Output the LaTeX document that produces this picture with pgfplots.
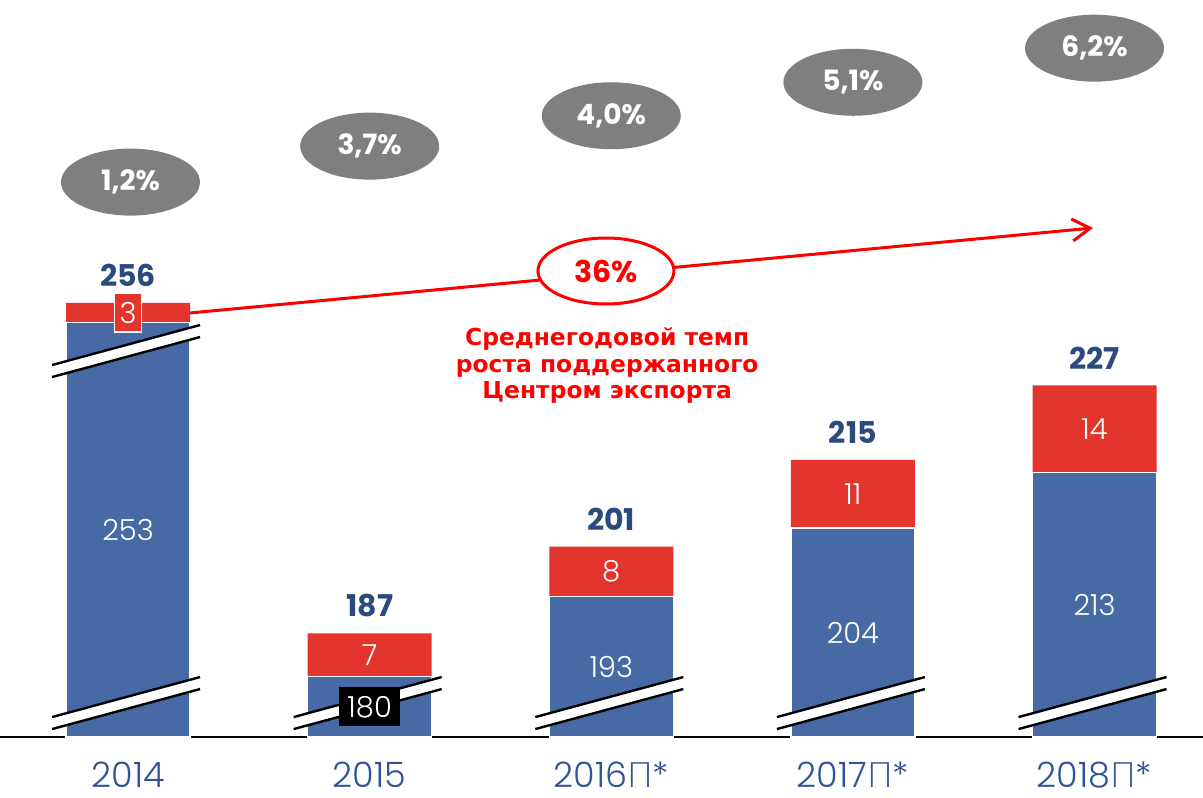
\documentclass[border=0pt]{standalone}
\usepackage{fontspec}
\setmainfont{Poppins}
\newfontfamily\popl{Poppins Light}
\newfontfamily\cyr{DejaVu Sans}
\newfontfamily\cyrl{Lato Light}
\usepackage{pgfplots}
\pgfplotsset{compat=1.18}
\usepackage{pgfplotstable}
\usetikzlibrary{shapes.geometric,arrows.meta}
\definecolor{barblue}{HTML}{476AA5}
\definecolor{barred}{HTML}{E3342E}
\definecolor{navy}{HTML}{2B4B7E}
\definecolor{tickblue}{HTML}{2F5597}
\definecolor{ellgray}{HTML}{7F7F7F}

% display heights (axis broken): blue and total
\pgfplotstableread{
x blue total totlab
0 237.2 240.3 256
1 180 187 187
2 193 201 201
3 204 215 215
4 213 227 227
}\datatab
\pgfplotstableread{
x y lab
0 203.75 253
2 181.65 193
3 187.15 204
4 191.65 213
}\bluelabs
\pgfplotstableread{
x y lab
1 175.15 180
}\bluelabsp
\pgfplotstableread{
x y lab
1 183.5 7
2 197 8
3 209.5 11
4 220 14
}\redlabs
\pgfplotstableread{
x y lab
0 238.75 3
}\redlabsp
\pgfplotstableread{
x y lab
0.01 259.8 1,2\%
1 265.6 3,7\%
2 270.5 4,0\%
3 275.9 5,1\%
4 281.4 6,2\%
}\growtab

\newcommand{\brk}[2]{%
  \fill[white,shift={(axis cs:#1,#2)}] (-38pt,-7.27pt)--(36pt,12.73pt)--(36pt,6.73pt)--(-38pt,-13.27pt)--cycle;
  \draw[black,line width=1.2pt,shift={(axis cs:#1,#2)}] (-38pt,-7.27pt)--(36pt,12.73pt) (-38pt,-13.27pt)--(36pt,6.73pt);}

\begin{document}
\begin{tikzpicture}
\useasboundingbox (0,-30pt) rectangle (601.5pt,368.5pt);
\begin{axis}[
  scale only axis, width=601.5pt, height=368.5pt,
  xmin=-0.53, xmax=4.449, ymin=170.3, ymax=289.17,
  axis y line=none, axis x line*=bottom,
  x axis line style={black, line width=0.6pt},
  xtick={0,1,2,3,4},
  xticklabels={2014,2015,2016{\cyrl П}*,2017{\cyrl П}*,2018{\cyrl П}*},
  major tick length=0pt,
  xticklabel style={anchor=base, yshift=-25pt, inner sep=0pt, text depth=0pt, text=tickblue, font=\popl\fontsize{17.5}{20}\selectfont},
]
\addplot[ybar, bar width=62pt, bar shift=0pt, fill=barred, draw=none,
  nodes near coords, point meta=explicit symbolic,
  every node near coord/.append style={font=\bfseries\fontsize{15}{16}\selectfont, text=navy, anchor=south, inner sep=0pt, yshift=8pt}]
  table[x=x, y=total, meta=totlab] {\datatab};
\addplot[ybar, bar width=62pt, bar shift=0pt, fill=barblue, draw=white, line width=0.6pt]
  table[x=x, y=blue] {\datatab};

\brk{0}{175.86}
\brk{0}{232.64}
\brk{1}{175.86}
\brk{2}{175.86}
\brk{3}{175.86}
\brk{4}{175.86}

\addplot[draw=none, mark=none, nodes near coords, point meta=explicit symbolic,
  every node near coord/.append style={anchor=center, text=white, font=\popl\fontsize{14.5}{16}\selectfont}]
  table[x=x, y=y, meta=lab] {\bluelabs};
\addplot[draw=none, mark=none, nodes near coords, point meta=explicit symbolic,
  every node near coord/.append style={anchor=center, fill=black, text=white, inner sep=0pt, minimum width=30.5pt, minimum height=19.5pt, font=\popl\fontsize{14.5}{16}\selectfont}]
  table[x=x, y=y, meta=lab] {\bluelabsp};
\addplot[draw=none, mark=none, nodes near coords, point meta=explicit symbolic,
  every node near coord/.append style={anchor=center, text=white, font=\popl\fontsize{14.5}{16}\selectfont}]
  table[x=x, y=y, meta=lab] {\redlabs};
\addplot[draw=none, mark=none, nodes near coords, point meta=explicit symbolic,
  every node near coord/.append style={anchor=center, fill=barred, draw=white, line width=0.8pt, text=white, inner sep=0pt, minimum width=13.5pt, minimum height=19.5pt, font=\popl\fontsize{14.5}{16}\selectfont}]
  table[x=x, y=y, meta=lab] {\redlabsp};

\addplot[draw=none, mark=none, nodes near coords, point meta=explicit symbolic,
  every node near coord/.append style={anchor=center, ellipse, fill=ellgray, text=white, inner sep=0pt, minimum width=69.5pt, minimum height=33.5pt, font=\bfseries\fontsize{14}{16}\selectfont}]
  table[x=x, y=y, meta=lab] {\growtab};

\draw[red, line width=1.5pt, -{Straight Barb[length=9pt,width=11pt]}] (axis cs:0.2566,238.69) -- (axis cs:3.994,252.4);
\node[ellipse, draw=red, line width=1.5pt, fill=white, minimum width=68pt, minimum height=33pt, inner sep=0pt, text=red, font=\bfseries\fontsize{15}{16}\selectfont] at (axis cs:1.978,245.46) {36\%};
\node[align=center, text=red, font=\cyr\bfseries\fontsize{11.7}{13.2}\selectfont] at (axis cs:1.983,230.2) {Среднегодовой темп\\роста поддержанного\\Центром экспорта};
\end{axis}
\end{tikzpicture}
\end{document}
